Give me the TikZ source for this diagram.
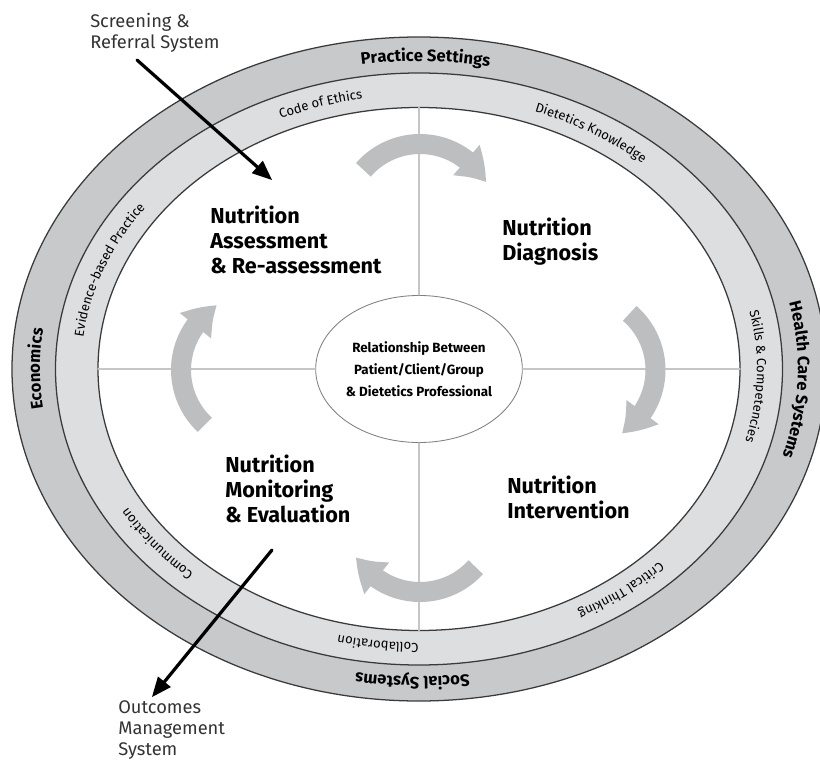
\documentclass[tikz,border=0pt]{standalone}
\usepackage{fontspec}
\setmainfont{Fira Sans}
\usepackage{tikz}
\usepackage{xcolor}
\usetikzlibrary{arrows}
\usetikzlibrary{arrows.meta,bending,decorations.text,shapes.geometric}
\definecolor{outerband}{HTML}{C8C9CB}
\definecolor{innerband}{HTML}{DDDEE0}
\definecolor{arrowgrey}{HTML}{BDBEC0}
\definecolor{dividergrey}{HTML}{C6C6C6}
\definecolor{ringline}{HTML}{3A3A3A}
\definecolor{labelgrey}{HTML}{333333}
\newcommand{\outerfont}{\fontsize{11.8}{13}\selectfont\bfseries}
\newcommand{\innerfont}{\fontsize{9.3}{10}\selectfont}

\begin{document}
\begin{tikzpicture}[line cap=round,line join=round,>=triangle 45,x=0.025cm,y=0.025cm,
    ring/.style={line width=0.9pt,draw=ringline},
    divider/.style={line width=0.8pt,color=dividergrey},
    cyclearrow/.style={line cap=butt,line width=0.5cm,color=arrowgrey,-{Triangle[bend,width=0.95cm,length=0.75cm]}},
    stage/.style={font=\fontsize{15.4}{17.8}\selectfont\bfseries,align=left,anchor=west,inner sep=0pt},
    side/.style={font=\fontsize{13}{14.8}\selectfont,color=labelgrey,align=left,anchor=west,inner sep=0pt},
    bandtext/.style={decorate,decoration={text along path,text align=center,text={#1}}}]
                \useasboundingbox (-419,-394) rectangle (401,369);
                % rings
                \fill [outerband] (0,0) ellipse [x radius=407, y radius=332];
                \draw [ring] (0,0) ellipse [x radius=407, y radius=332];
                \fill [innerband] (0,0) ellipse [x radius=363.5, y radius=296];
                \draw [ring] (0,0) ellipse [x radius=363.5, y radius=296];
                \fill [white] (0,0) ellipse [x radius=321, y radius=261.5];
                \draw [ring] (0,0) ellipse [x radius=321, y radius=261.5];
                \coordinate (itop) at (0,261.5);
                \coordinate (ibot) at (0,-261.5);
                \coordinate (ileft) at (-321,0);
                \coordinate (iright) at (321,0);
                % outer band
                \path [bandtext={|\outerfont|Practice Settings}] (107:379 and 308) arc [start angle=107, end angle=71, x radius=379, y radius=308];
                \path [bandtext={|\outerfont|Health Care Systems}] (22:379 and 308) arc [start angle=22, end angle=-26, x radius=379, y radius=308];
                \path [bandtext={|\outerfont|Social Systems}] (-75:379 and 308) arc [start angle=-75, end angle=-107, x radius=379, y radius=308];
                \path [bandtext={|\outerfont|Economics}] (195:379 and 308) arc [start angle=195, end angle=165, x radius=379, y radius=308];
                % inner band
                \path [bandtext={|\innerfont|Code of Ethics}] (122:338 and 274) arc [start angle=122, end angle=92, x radius=338, y radius=274];
                \path [bandtext={|\innerfont|Dietetics Knowledge}] (77:338 and 274) arc [start angle=77, end angle=41, x radius=338, y radius=274];
                \path [bandtext={|\innerfont|Skills {\&} Competencies}] (20.5:338 and 274) arc [start angle=20.5, end angle=-23.5, x radius=338, y radius=274];
                \path [bandtext={|\innerfont|Critical Thinking}] (-37:338 and 274) arc [start angle=-37, end angle=-69, x radius=338, y radius=274];
                \path [bandtext={|\innerfont|Collaboration}] (-83:338 and 274) arc [start angle=-83, end angle=-111, x radius=338, y radius=274];
                \path [bandtext={|\innerfont|Communication}] (-125:338 and 274) arc [start angle=-125, end angle=-157, x radius=338, y radius=274];
                \path [bandtext={|\innerfont|Evidence-based Practice}] (181:338 and 274) arc [start angle=181, end angle=137, x radius=338, y radius=274];
                % hub and dividers
                \node [ellipse,draw=gray,line width=0.6pt,minimum width=4.5cm,minimum height=3.675cm,inner sep=0pt,align=center,font=\fontsize{9.5}{15.6}\selectfont\bfseries] (hub) at (0,0) {Relationship Between\\Patient/Client/Group\\\& Dietetics Professional};
                \draw [divider] (hub.north) -- (itop);
                \draw [divider] (hub.south) -- (ibot);
                \draw [divider] (hub.west) -- (ileft);
                \draw [divider] (hub.east) -- (iright);
                % cycle arrows
                \draw [cyclearrow] (1,150) ++(139:75) arc [start angle=139, end angle=29, radius=75];
                \draw [cyclearrow] (161.5,-1) ++(49:75) arc [start angle=49, end angle=-57, radius=75];
                \draw [cyclearrow] (1,-148) ++(-42:75) arc [start angle=-42, end angle=-148, radius=75];
                \draw [cyclearrow] (-163,-1) ++(227:75) arc [start angle=227, end angle=121, radius=75];
                % stages
                \node [stage] (assess) at (-209,129) {Nutrition\\Assessment\\\& Re-assessment};
                \node [stage] (diag) at (83,127.5) {Nutrition\\Diagnosis};
                \node [stage] (interv) at (88,-128.5) {Nutrition\\Intervention};
                \node [stage] (monit) at (-194,-120) {Nutrition\\Monitoring\\\& Evaluation};
                % in and out
                \node [side] (scrlabel) at (-329,336.5) {Screening \&\\Referral System};
                \node [side] (outlabel) at (-301,-361) {Outcomes\\Management\\System};
                \coordinate (scrtail) at (-282,309);
                \coordinate (scrtip) at (-147,189);
                \coordinate (outtail) at (-147,-181);
                \coordinate (outtip) at (-267,-328);
                \draw [line width=2.3pt,->] (scrtail) -- (scrtip);
                \draw [line width=2.3pt,->] (outtail) -- (outtip);
\end{tikzpicture}
\end{document}
